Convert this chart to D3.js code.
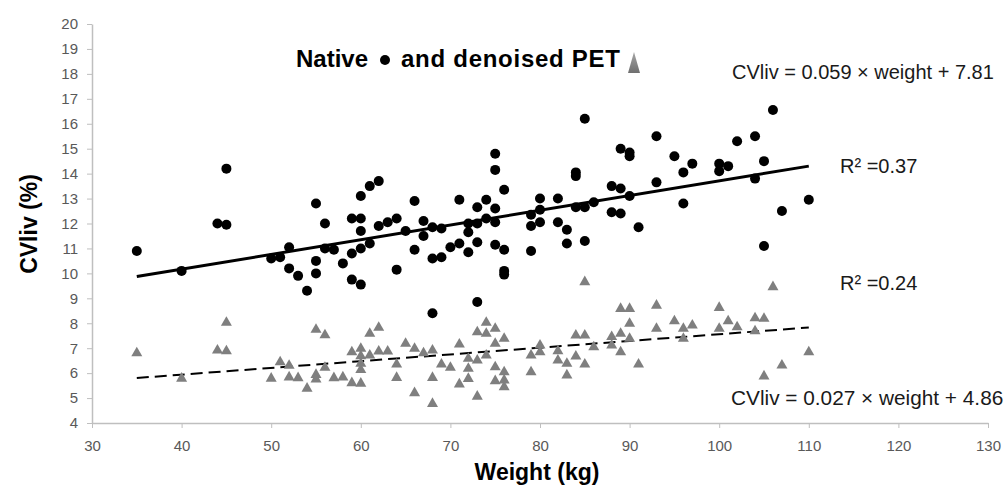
<!DOCTYPE html>
<html>
<head>
<meta charset="utf-8">
<script src="https://cdn.jsdelivr.net/npm/d3@7"></script>
<style>
  body { margin: 0; background: #fff; }
  svg { display: block; }
  .tick text { font-family: "Liberation Sans Narrow", "Liberation Sans", Arial, sans-serif; font-size: 15px; fill: #595959; }
  .axis path, .axis line { stroke: #bfbfbf; }
  .note { font-family: "Liberation Sans", Arial, sans-serif; font-size: 20px; fill: #1a1a1a; }
  .bold { font-family: "Liberation Sans", Arial, sans-serif; font-weight: bold; fill: #000; }
</style>
</head>
<body>
<div id="chart"></div>
<script>
// CVliv vs body weight, native PET (circles) and denoised PET (triangles)

const nativeWeight = [35, 40, 44, 45, 45, 50, 51, 52, 52, 53, 54, 55, 55, 55, 56, 56, 57, 58, 59, 59,
  59, 60, 60, 60, 60, 60, 61, 61, 62, 62, 63, 64, 64, 65, 66, 66, 67, 67, 68, 68,
  68, 69, 69, 70, 71, 71, 72, 72, 72, 73, 73, 73, 73, 74, 74, 75, 75, 75, 75, 75,
  76, 76, 76, 76, 79, 79, 79, 80, 80, 80, 82, 82, 83, 83, 84, 84, 84, 85, 85, 85,
  86, 88, 88, 89, 89, 89, 90, 90, 90, 91, 93, 93, 95, 96, 96, 97, 100, 100, 101, 102,
  104, 104, 105, 105, 106, 107, 110];
const nativeCV = [10.9, 10.1, 12.0, 11.95, 14.2, 10.6, 10.65, 11.05, 10.2, 9.9, 9.3, 12.8, 10.5, 10.0, 12.0, 11.0, 10.95, 10.4, 10.8, 12.2,
  9.75, 12.2, 13.1, 11.7, 11.0, 9.55, 13.5, 11.2, 13.7, 11.9, 12.05, 12.2, 10.15, 11.7, 12.9, 10.95, 12.1, 11.5, 11.85, 10.6,
  8.4, 11.8, 10.65, 11.05, 12.95, 11.2, 12.0, 11.65, 10.85, 12.65, 12.0, 11.25, 8.85, 12.95, 12.2, 14.8, 14.15, 12.6, 12.05, 11.15,
  13.35, 10.95, 10.1, 9.95, 12.35, 11.9, 10.9, 13.0, 12.55, 12.05, 13.0, 12.05, 11.75, 11.2, 14.05, 13.9, 12.65, 12.65, 16.2, 11.3,
  12.85, 13.5, 12.45, 15.0, 13.4, 12.4, 14.85, 14.7, 13.1, 11.85, 15.5, 13.65, 14.7, 14.05, 12.8, 14.4, 14.4, 14.1, 14.3, 15.3,
  15.5, 13.8, 14.5, 11.1, 16.55, 12.5, 12.95];

const denoisedWeight = [35, 40, 44, 45, 45, 50, 51, 52, 52, 53, 54, 55, 55, 55, 56, 56, 57, 58, 59, 59,
  60, 60, 60, 60, 60, 61, 61, 62, 62, 63, 64, 64, 65, 66, 66, 67, 68, 68, 68, 69,
  70, 71, 71, 72, 72, 72, 73, 73, 73, 74, 74, 74, 75, 75, 75, 75, 76, 76, 76, 76,
  79, 79, 80, 80, 82, 82, 83, 83, 84, 84, 85, 85, 85, 86, 88, 88, 89, 89, 89, 90,
  90, 90, 91, 93, 93, 95, 96, 96, 97, 100, 100, 101, 102, 104, 104, 105, 105, 106, 107, 110];
const denoisedCV = [6.82, 5.8, 6.93, 6.9, 8.04, 5.8, 6.46, 6.32, 5.85, 5.82, 5.4, 7.76, 5.95, 5.77, 7.54, 6.24, 5.82, 5.85, 6.86, 5.62,
  7.0, 6.7, 6.4, 6.15, 5.6, 7.6, 6.73, 7.84, 6.89, 6.89, 6.37, 5.83, 7.2, 7.0, 5.22, 6.82, 6.93, 5.83, 4.79, 6.37,
  6.24, 7.17, 5.57, 6.6, 6.2, 5.79, 7.66, 6.53, 5.08, 8.04, 7.6, 6.73, 7.8, 7.2, 6.26, 5.7, 7.4, 6.06, 5.73, 5.46,
  6.73, 6.06, 7.13, 6.86, 6.9, 6.53, 6.4, 5.93, 7.53, 6.69, 7.53, 6.37, 9.67, 7.06, 7.47, 7.13, 7.6, 6.86, 8.6, 8.6,
  8.0, 7.4, 6.37, 8.73, 7.8, 8.1, 7.8, 7.4, 7.93, 8.64, 7.8, 8.1, 7.86, 8.22, 7.7, 8.2, 5.89, 9.47, 6.33, 6.86];

// linear fits shown on the chart: [slope, intercept]
const nativeFit = [0.059, 7.81];
const denoisedFit = [0.027, 4.86];
const fitRange = [35, 110];

const xTicks = [30, 40, 50, 60, 70, 80, 90, 100, 110, 120, 130];
const yTicks = [4, 5, 6, 7, 8, 9, 10, 11, 12, 13, 14, 15, 16, 17, 18, 19, 20];

const W = 1008, H = 487;
const plot = { left: 92, right: 988, top: 24, bottom: 423 };

const svg = d3.select('#chart').append('svg')
  .attr('width', W)
  .attr('height', H);

const x = d3.scaleLinear().domain([30, 130]).range([plot.left, plot.right]);
const y = d3.scaleLinear().domain([4, 20]).range([plot.bottom, plot.top]);

/* ---------------- axes ---------------- */

svg.append('g')
  .attr('class', 'axis')
  .attr('transform', `translate(0,${plot.bottom})`)
  .call(d3.axisBottom(x).tickValues(xTicks).tickSize(5).tickPadding(12).tickSizeOuter(0));

svg.append('g')
  .attr('class', 'axis')
  .attr('transform', `translate(${plot.left},0)`)
  .call(d3.axisLeft(y).tickValues(yTicks).tickSize(5).tickPadding(9).tickSizeOuter(0));

svg.selectAll('.axis path').attr('stroke-width', 1.5);

svg.append('text')
  .attr('class', 'bold')
  .attr('x', 537).attr('y', 480)
  .attr('text-anchor', 'middle')
  .style('font-size', '23px')
  .text('Weight (kg)');

svg.append('text')
  .attr('class', 'bold')
  .attr('transform', 'translate(37,224) rotate(-90)')
  .attr('text-anchor', 'middle')
  .style('font-size', '23px')
  .text('CVliv (%)');

/* ---------------- fit lines ---------------- */

function fitLine(fit) {
  return fitRange.map(w => [x(w), y(fit[0] * w + fit[1])]);
}

svg.append('path')
  .attr('d', d3.line()(fitLine(nativeFit)))
  .attr('stroke', '#000')
  .attr('stroke-width', 3)
  .attr('fill', 'none');

svg.append('path')
  .attr('d', d3.line()(fitLine(denoisedFit)))
  .attr('stroke', '#000')
  .attr('stroke-width', 2)
  .attr('stroke-dasharray', '12,6')
  .attr('fill', 'none');

/* ---------------- points ---------------- */

const triPath = 'M0,-6L5.5,3.6L-5.5,3.6Z';

svg.append('g').selectAll('path')
  .data(denoisedWeight.map((w, i) => [w, denoisedCV[i]]))
  .enter().append('path')
  .attr('d', triPath)
  .attr('transform', d => `translate(${x(d[0])},${y(d[1])})`)
  .attr('fill', '#7f7f7f');

svg.append('g').selectAll('circle')
  .data(nativeWeight.map((w, i) => [w, nativeCV[i]]))
  .enter().append('circle')
  .attr('cx', d => x(d[0]))
  .attr('cy', d => y(d[1]))
  .attr('r', 5)
  .attr('fill', '#000');

/* ---------------- title & annotations ---------------- */

const grad = svg.append('defs').append('linearGradient')
  .attr('id', 'triGrad').attr('x1', 0).attr('y1', 0).attr('x2', 0).attr('y2', 1);
grad.append('stop').attr('offset', '0%').attr('stop-color', '#a6a6a6');
grad.append('stop').attr('offset', '100%').attr('stop-color', '#6f6f6f');

svg.append('text').attr('class', 'bold')
  .attr('x', 296).attr('y', 67)
  .style('font-size', '24px')
  .text('Native');
svg.append('circle').attr('cx', 385).attr('cy', 60).attr('r', 5).attr('fill', '#000');
svg.append('text').attr('class', 'bold')
  .attr('x', 401).attr('y', 67)
  .attr('textLength', 219)
  .style('font-size', '24px')
  .text('and denoised PET');
svg.append('path')
  .attr('d', 'M634,52L640,73L628,73Z')
  .attr('fill', 'url(#triGrad)');

const notes = [
  { text: 'CVliv = 0.059 × weight + 7.81', x: 732, y: 79, size: 20 },
  { text: 'R² =0.37', x: 840, y: 173, size: 20 },
  { text: 'R² =0.24', x: 840, y: 290, size: 20 },
  { text: 'CVliv = 0.027 × weight + 4.86', x: 731, y: 405, size: 20.8 }
];
svg.selectAll('text.note')
  .data(notes)
  .enter().append('text')
  .attr('class', 'note')
  .attr('x', d => d.x)
  .attr('y', d => d.y)
  .style('font-size', d => d.size + 'px')
  .text(d => d.text);
</script>
</body>
</html>
